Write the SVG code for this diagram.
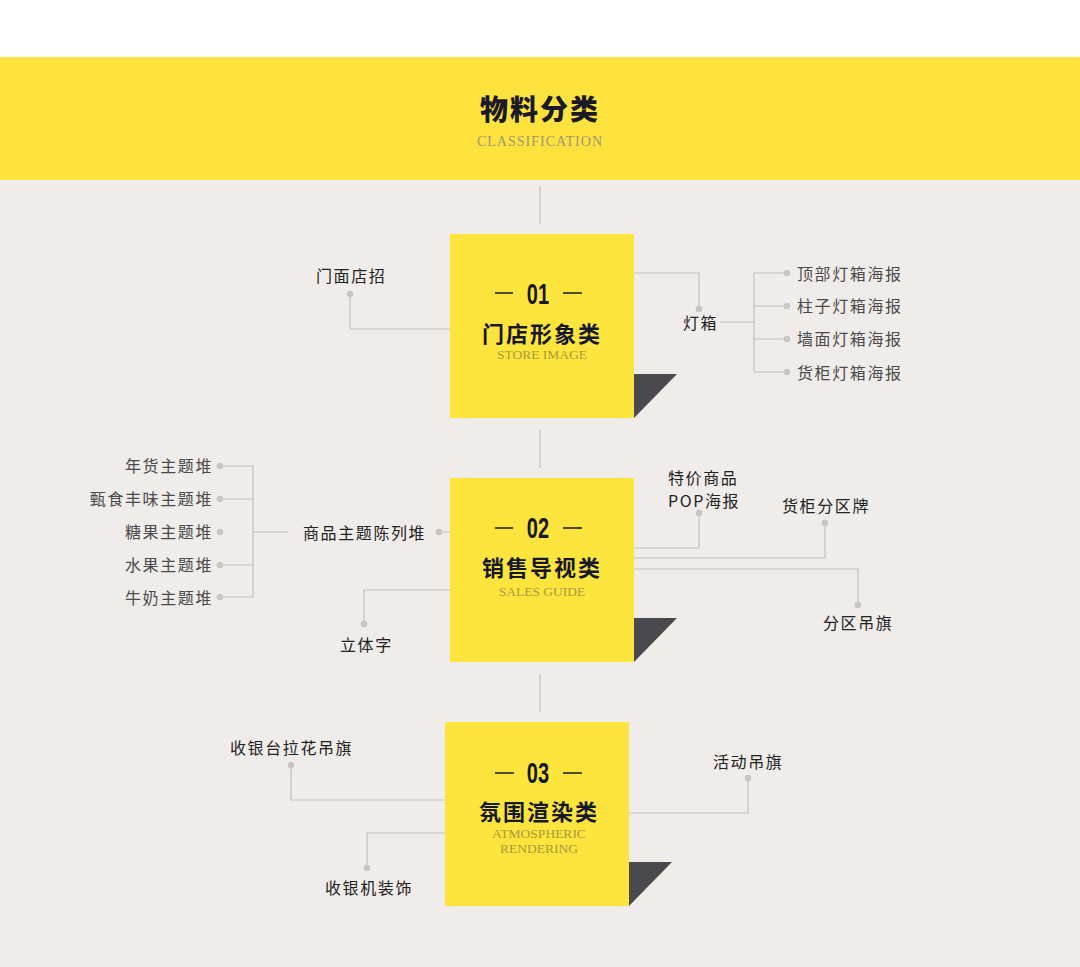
<svg xmlns="http://www.w3.org/2000/svg" width="1080" height="967" viewBox="0 0 1080 967">
<style>
.cn{font-family:"Noto Sans CJK SC","Noto Sans",sans-serif}
.lbl{font-family:"Noto Sans CJK SC",sans-serif;font-size:16px;letter-spacing:1.6px;fill:#222}
.sub{font-family:"Noto Sans CJK SC",sans-serif;font-size:16px;letter-spacing:1.6px;fill:#4a4a4a}
.num{font-family:"Liberation Sans",Arial,sans-serif;font-weight:bold;font-size:29px;fill:#15182a;text-anchor:middle}
.ttl{font-family:"Noto Sans CJK SC",sans-serif;font-weight:bold;font-size:22px;letter-spacing:2px;fill:#15182a;text-anchor:middle}
.en{font-family:"Liberation Serif",serif;font-size:13.5px;fill:#a99a3c;text-anchor:middle}
.box{fill:#fee53e}
.fold{fill:#4a4a4e}
.dash{stroke:#15182a;stroke-width:1.5}
.ln{fill:none;stroke:#c2c0bc;stroke-width:1.2}
.dot{fill:#c8c6c3}
</style>
<rect x="0" y="0" width="1080" height="967" fill="#efece9"/>
<rect x="0" y="0" width="1080" height="57" fill="#ffffff"/>
<rect x="0" y="57" width="1080" height="123" fill="#fee33f"/>
<g id="header">
<text x="540" y="120" class="cn" font-size="28" font-weight="900" letter-spacing="2" fill="#1a1a28" text-anchor="middle">物料分类</text>
<text x="540" y="146" font-family="Liberation Serif,serif" font-size="14" letter-spacing="1" fill="#9f9672" text-anchor="middle">CLASSIFICATION</text>
</g>
<g id="connectors">
<path class="ln" d="M540 186V224M540 430V468M540 674V712"/>
<path class="ln" d="M350 294V329H450"/>
<path class="ln" d="M634 273H699V309"/>
<path class="ln" d="M720 322H754M787 273H754V372H787M754 306H787M754 339H787"/>
<path class="ln" d="M439 532H450M288 532H253M220 466H253V597H220M220 499H253M220 565H253"/>
<path class="ln" d="M450 590H364V624"/>
<path class="ln" d="M634 548H699V513M634 558H825V523M634 569H858V605"/>
<path class="ln" d="M291 765V800H445M445 833H367V868"/>
<path class="ln" d="M629 813H748V778"/>
<g class="dot">
<circle cx="350" cy="294" r="3.3"/><circle cx="699" cy="309" r="3.3"/>
<circle cx="787" cy="273" r="3.3"/><circle cx="787" cy="306" r="3.3"/><circle cx="787" cy="339" r="3.3"/><circle cx="787" cy="372" r="3.3"/>
<circle cx="439" cy="532" r="3.3"/>
<circle cx="220" cy="466" r="3.3"/><circle cx="220" cy="499" r="3.3"/><circle cx="220" cy="532" r="3.3"/><circle cx="220" cy="565" r="3.3"/><circle cx="220" cy="597" r="3.3"/>
<circle cx="364" cy="624" r="3.3"/><circle cx="699" cy="513" r="3.3"/><circle cx="825" cy="523" r="3.3"/><circle cx="858" cy="605" r="3.3"/>
<circle cx="291" cy="765" r="3.3"/><circle cx="367" cy="868" r="3.3"/><circle cx="748" cy="778" r="3.3"/>
</g>
</g>
<g id="node-01">
<polygon class="fold" points="634,374 677,374 634,418"/>
<rect class="box" x="450" y="234" width="184" height="184"/>
<line class="dash" x1="495" y1="293" x2="513" y2="293"/><line class="dash" x1="563" y1="293" x2="582" y2="293"/>
<text transform="translate(538,304) scale(0.69,1)" class="num">01</text>
<text x="542" y="342" class="ttl">门店形象类</text>
<text x="542" y="359" class="en">STORE IMAGE</text>
</g>
<g id="node-02">
<polygon class="fold" points="634,618 677,618 634,662"/>
<rect class="box" x="450" y="478" width="184" height="184"/>
<line class="dash" x1="495" y1="528" x2="513" y2="528"/><line class="dash" x1="563" y1="528" x2="582" y2="528"/>
<text transform="translate(538,538) scale(0.69,1)" class="num">02</text>
<text x="542" y="576" class="ttl">销售导视类</text>
<text x="542" y="596" class="en">SALES GUIDE</text>
</g>
<g id="node-03">
<polygon class="fold" points="629,862 672,862 629,906"/>
<rect class="box" x="445" y="722" width="184" height="184"/>
<line class="dash" x1="495" y1="773" x2="514" y2="773"/><line class="dash" x1="563" y1="773" x2="582" y2="773"/>
<text transform="translate(538,783) scale(0.69,1)" class="num">03</text>
<text x="539" y="820" class="ttl">氛围渲染类</text>
<text x="539" y="838" class="en">ATMOSPHERIC</text>
<text x="539" y="853" class="en">RENDERING</text>
</g>
<g id="labels-01">
<text x="316" y="282" class="lbl">门面店招</text>
<text x="683" y="329" class="lbl">灯箱</text>
<text x="797" y="280" class="sub">顶部灯箱海报</text>
<text x="797" y="312" class="sub">柱子灯箱海报</text>
<text x="797" y="345" class="sub">墙面灯箱海报</text>
<text x="797" y="379" class="sub">货柜灯箱海报</text>
</g>
<g id="labels-02">
<text x="303" y="539" class="lbl">商品主题陈列堆</text>
<g text-anchor="end">
<text x="213" y="472" class="sub">年货主题堆</text>
<text x="213" y="505" class="sub">甄食丰味主题堆</text>
<text x="213" y="538" class="sub">糖果主题堆</text>
<text x="213" y="571" class="sub">水果主题堆</text>
<text x="213" y="604" class="sub">牛奶主题堆</text>
</g>
<text x="340" y="651" class="lbl">立体字</text>
<text class="lbl" font-size="15"><tspan x="668" y="484">特价商品</tspan><tspan x="668" y="506.5">POP海报</tspan></text>
<text x="782" y="512" class="lbl">货柜分区牌</text>
<text x="823" y="629" class="lbl">分区吊旗</text>
</g>
<g id="labels-03">
<text x="230" y="754" class="lbl">收银台拉花吊旗</text>
<text x="325" y="894" class="lbl">收银机装饰</text>
<text x="713" y="768" class="lbl">活动吊旗</text>
</g>
</svg>
